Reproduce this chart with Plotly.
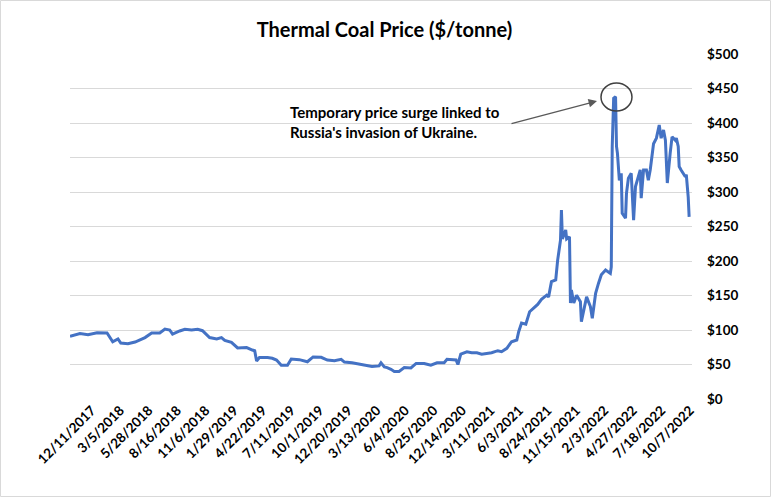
import plotly.graph_objects as go

# ---- data (trading-day index, price $/tonne) ----
day = [0, 21, 38, 57, 78, 90, 101, 107, 122, 137, 158, 172, 189, 200, 210, 216, 231, 242, 256, 269,
       279, 294, 309, 319, 326, 340, 353, 372, 384, 389, 393, 399, 416, 426, 435, 445, 458, 466, 483, 500,
       512, 529, 542, 557, 571, 578, 594, 613, 626, 636, 651, 655, 662, 668, 676, 683, 693, 699, 704, 718,
       729, 746, 760, 773, 788, 794, 813, 817, 823, 836, 846, 857, 867, 888, 901, 909, 920, 930, 941, 945,
       951, 960, 968, 977, 985, 993, 1004, 1008, 1014, 1023, 1027, 1033, 1035, 1037, 1044, 1046, 1052, 1054, 1056, 1061,
       1067, 1075, 1077, 1088, 1096, 1100, 1107, 1113, 1119, 1128, 1138, 1140, 1142, 1145, 1149, 1151, 1153, 1157, 1161, 1163,
       1170, 1172, 1176, 1182, 1187, 1191, 1197, 1201, 1203, 1208, 1214, 1218, 1222, 1224, 1229, 1235, 1241, 1245, 1250, 1254,
       1258, 1264, 1268, 1275, 1277, 1281, 1283, 1287, 1296, 1298, 1302, 1304]
price = [91, 95, 93, 96, 95.6, 83, 87, 81, 80, 82.6, 89, 95.6, 95.6, 101.4, 100, 94, 98.6, 101, 100, 101,
         99, 89, 87, 89, 85, 82, 74, 74.5, 71, 70, 55, 60, 60, 59, 56.5, 49, 49, 58, 57, 54,
         61, 60.5, 56.5, 55.5, 57.5, 53.5, 52.5, 50, 48, 47, 48, 52.5, 46.5, 45.5, 43, 40, 40, 43, 45.5, 45,
         51.5, 51.5, 49, 52.5, 52.5, 57.5, 56.5, 50, 65, 68.5, 67, 67, 65, 67, 70, 68.5, 73.5, 83, 85.5, 97.5,
         110, 108.5, 126.5, 132, 137, 144.5, 150.5, 148, 170, 172.5, 201, 230, 274, 232, 245, 232, 235, 139, 158, 139,
         150.5, 141, 112, 148, 134, 117, 153, 167.5, 180, 187, 182, 191.5, 366, 436, 438, 366, 356, 317, 327, 269,
         262, 298, 320, 327, 259, 308, 325, 332, 291, 332, 332, 317, 332, 346, 370, 378, 397, 378, 390, 375,
         313, 356, 380, 375, 378, 366, 337, 332, 322, 325, 293, 264]

tick_labels = ["12/11/2017", "3/5/2018", "5/28/2018", "8/16/2018", "11/6/2018", "1/29/2019",
               "4/22/2019", "7/11/2019", "10/1/2019", "12/20/2019", "3/13/2020", "6/4/2020",
               "8/25/2020", "12/14/2020", "3/11/2021", "6/3/2021", "8/24/2021", "11/15/2021",
               "2/3/2022", "4/27/2022", "7/18/2022", "10/7/2022"]
label_start = 46
label_step = 60
tick_days = [label_start + label_step * i for i in range(len(tick_labels))]

FONT = "Lato"
fig = go.Figure()
fig.add_trace(go.Scatter(x=day, y=price, mode="lines",
                         line=dict(color="#4472C4", width=3), hoverinfo="skip"))

fig.update_layout(
    width=771, height=497,
    margin=dict(l=70, r=79, t=54, b=98),
    paper_bgcolor="white", plot_bgcolor="white",
    showlegend=False,
    font=dict(family=FONT, color="black"),
    title=dict(text="<b>Thermal Coal Price ($/tonne)</b>", x=0.4987, xanchor="center",
               y=1 - 30 / 497, yanchor="middle", yref="container",
               font=dict(family=FONT, size=20, color="black")),
    xaxis=dict(range=[0, 1310], tickvals=tick_days, ticktext=tick_labels, tickangle=-45,
               showgrid=False, zeroline=False, showline=False, ticks="", automargin=False,
               tickfont=dict(family=FONT, size=13.5, color="black", weight="bold")),
    yaxis=dict(range=[0, 500], dtick=50, tickprefix="$", side="right",
               showgrid=True, gridcolor="#d9d9d9", gridwidth=1, zeroline=False,
               showline=False, ticks="", ticklabelstandoff=14, automargin=False,
               tickfont=dict(family=FONT, size=13.5, color="black", weight="bold")),
)

fig.add_annotation(text="<b>Temporary price surge linked to<br>Russia's invasion of Ukraine.</b>",
                   xref="x domain", yref="y domain", x=0.3505, y=0.803,
                   xanchor="left", yanchor="middle", align="left", showarrow=False,
                   font=dict(family=FONT, size=15, color="black"))
fig.add_annotation(text="", xref="x domain", yref="y domain", x=0.8473, y=0.8638,
                   axref="x domain", ayref="y domain", ax=0.7074, ay=0.7971,
                   showarrow=True, arrowhead=2, arrowsize=1.3, arrowwidth=1.3,
                   arrowcolor="#595959", standoff=0)
fig.add_shape(type="circle", xref="x domain", yref="y domain",
              x0=0.8537, x1=0.9035, y0=0.8348, y1=0.9159,
              line=dict(color="#404040", width=1.5))
fig.add_shape(type="rect", xref="paper", yref="paper",
              x0=-0.1117, x1=1.1262, y0=-0.2826, y1=1.1551,
              line=dict(color="#d9d9d9", width=1))

fig.write_html("out.html", config={"displayModeBar": False},
               post_script="document.body.style.margin='0';")
